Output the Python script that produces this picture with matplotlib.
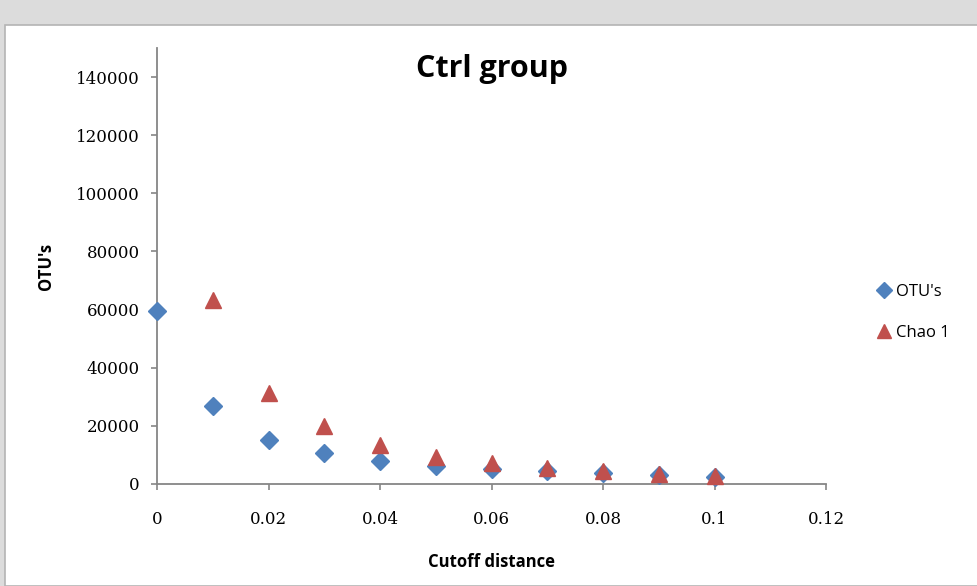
import numpy as np
import matplotlib.pyplot as plt
from matplotlib.patches import Rectangle

# distances de coupure et richesse estimée
cutoff = [0, 0.01, 0.02, 0.03, 0.04, 0.05, 0.06, 0.07, 0.08, 0.09, 0.1]
otus = [59500, 26900, 15200, 10700, 7900, 6200, 5200, 4400, 3800, 3100, 2400]
cutoff_chao = [0.01, 0.02, 0.03, 0.04, 0.05, 0.06, 0.07, 0.08, 0.09, 0.1]
chao1 = [63300, 31300, 20000, 13400, 9300, 7200, 5500, 4500, 3400, 2700]

xticks = [0, 0.02, 0.04, 0.06, 0.08, 0.1, 0.12]
xticklabels = ['0', '0.02', '0.04', '0.06', '0.08', '0.1', '0.12']
yticks = [0, 20000, 40000, 60000, 80000, 100000, 120000, 140000]

bleu = '#4F81BD'
rouge = '#C0504D'
gris = '#868686'

fig = plt.figure(figsize=(9.78, 5.86), dpi=100, facecolor='#dcdcdc')
# panneau blanc du graphique (derrière les axes)
fig.patches.append(Rectangle((5 / 978, 0), 1.0, 1 - 25 / 586, transform=fig.transFigure,
                             facecolor='white', edgecolor='#b4b4b4', linewidth=1.2, zorder=-10))

ax = fig.add_axes([157 / 978, 102 / 586, 669 / 978, 436 / 586])
ax.set_facecolor('none')

ax.plot(cutoff, otus, linestyle='none', marker='D', markersize=9, color=bleu,
        markeredgecolor=bleu, label="OTU's", clip_on=False, zorder=3)
ax.plot(cutoff_chao, chao1, linestyle='none', marker='^', markersize=12, color=rouge,
        markeredgecolor=rouge, label='Chao 1', clip_on=False, zorder=4)

ax.set_xlim(0, 0.12)
ax.set_ylim(0, 150000)
ax.set_xticks(xticks)
ax.set_xticklabels(xticklabels)
ax.set_yticks(yticks)
ax.set_yticklabels([str(v) for v in yticks])

for side in ['top', 'right']:
    ax.spines[side].set_visible(False)
for side in ['left', 'bottom']:
    ax.spines[side].set_color(gris)
    ax.spines[side].set_linewidth(1.3)

ax.tick_params(axis='both', colors=gris, length=4.5, width=1.2, direction='out')
ax.tick_params(axis='x', labelcolor='black', labelsize=12, pad=15)
ax.tick_params(axis='y', labelcolor='black', labelsize=12, pad=8)
for lab in ax.get_xticklabels() + ax.get_yticklabels():
    lab.set_fontfamily('DejaVu Serif')

ax.set_title('Ctrl group', fontsize=22, fontweight='bold', family='Open Sans', pad=-2, y=0.94)
ax.set_xlabel('Cutoff distance', fontsize=12, fontweight='bold', family='Open Sans', labelpad=18)
ax.set_ylabel("OTU's", fontsize=12, fontweight='bold', family='Open Sans', labelpad=15)

ax.legend(loc='center left', bbox_to_anchor=(1.05, 0.394), frameon=False,
          prop={'family': 'Open Sans', 'size': 12}, handletextpad=0.1,
          labelspacing=1.5, markerscale=0.85, handlelength=1.2)

fig.savefig('out.png', dpi=100, facecolor=fig.get_facecolor())
